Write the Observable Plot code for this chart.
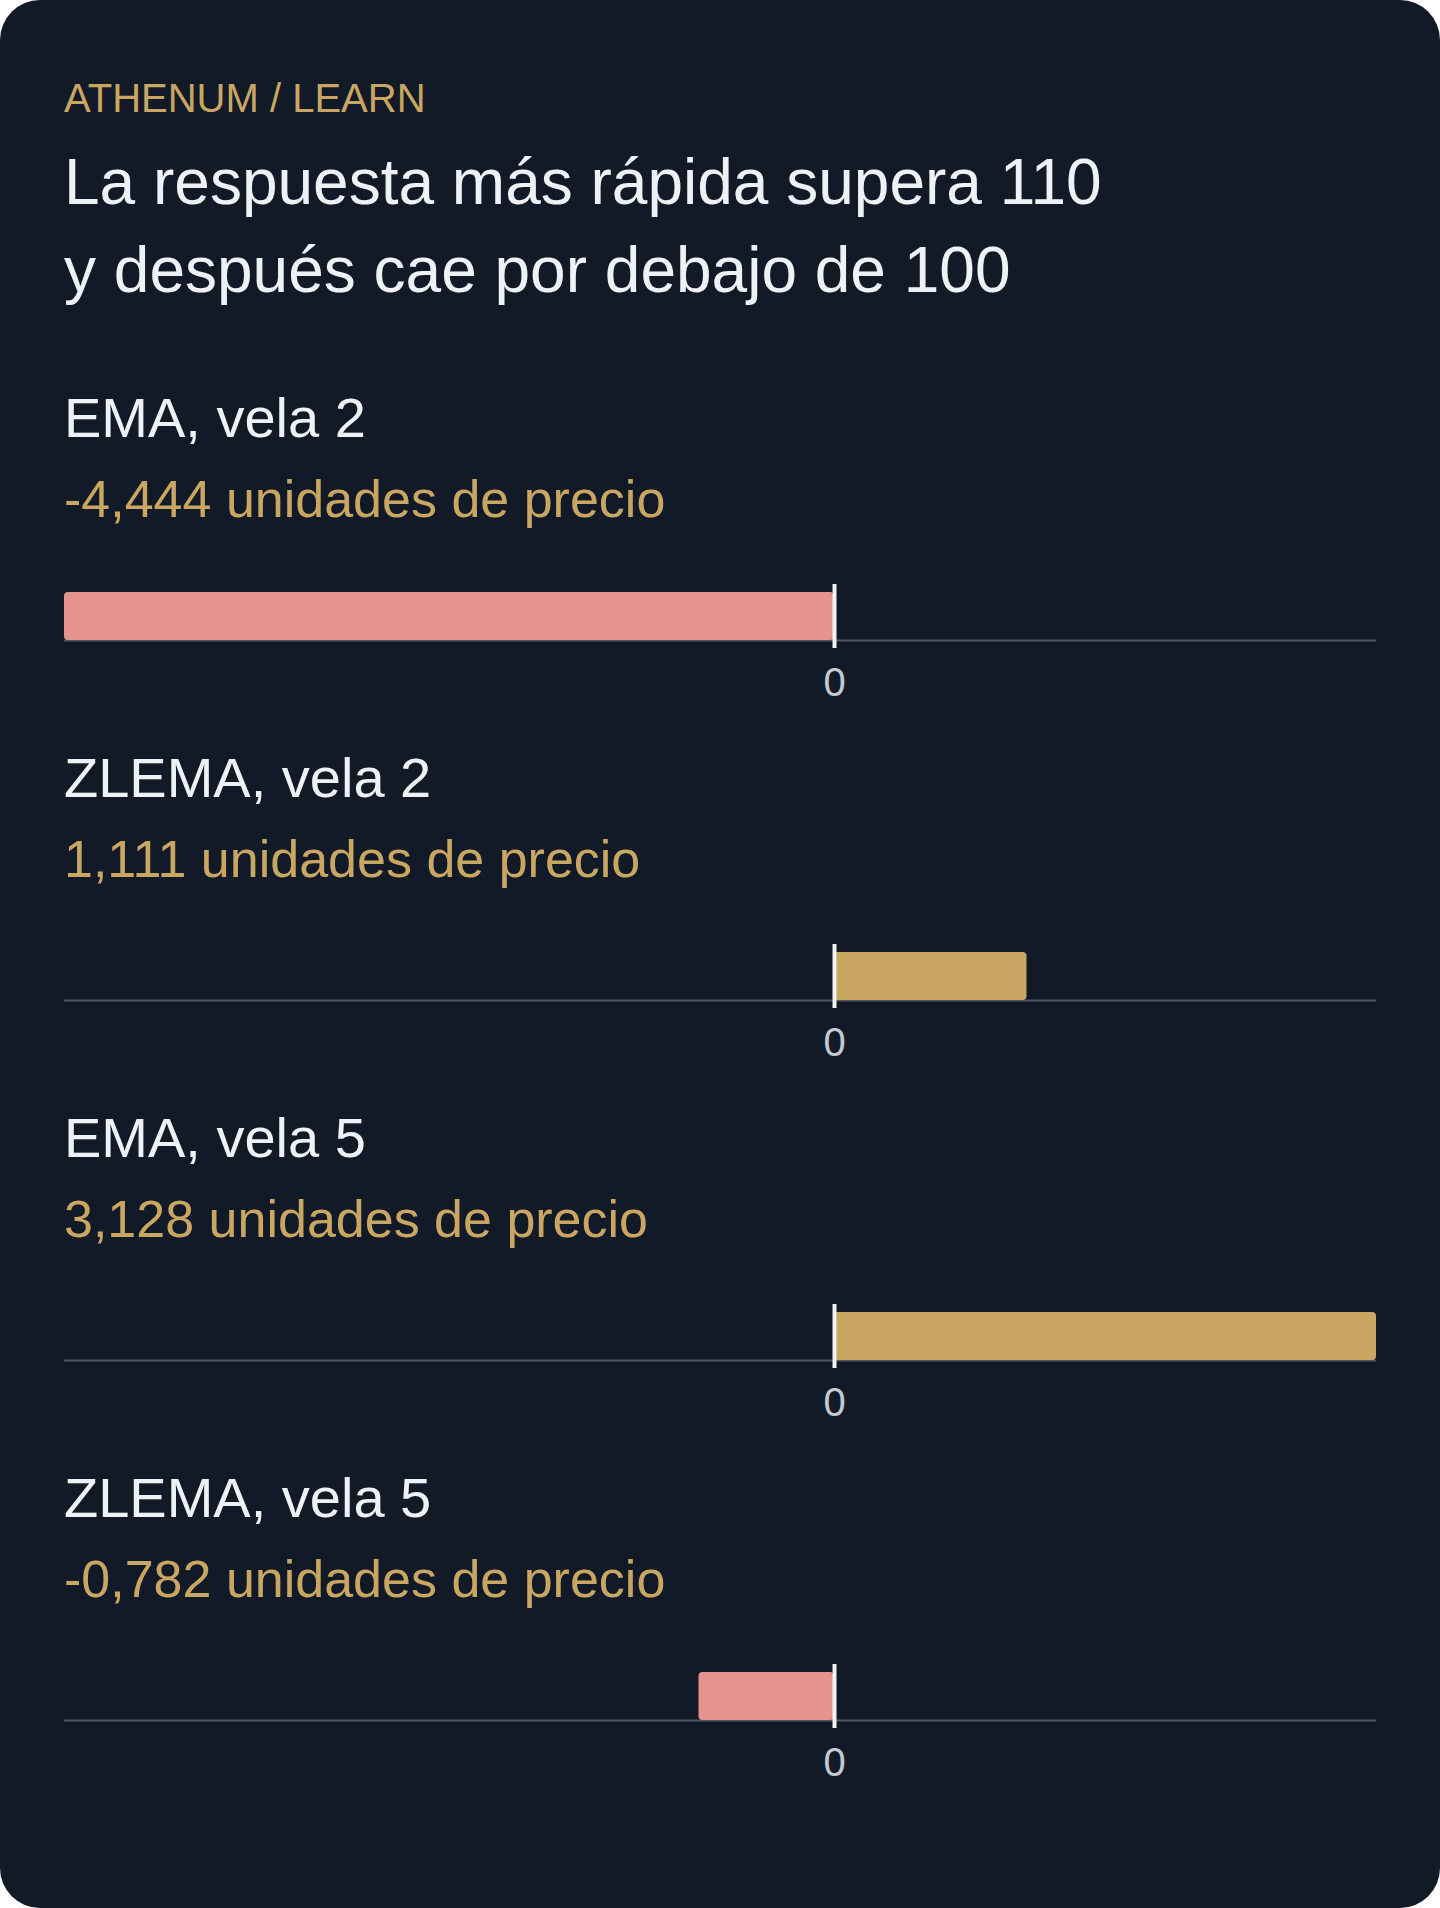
<!DOCTYPE html>
<html>
<head>
<meta charset="utf-8">
<script src="https://cdn.jsdelivr.net/npm/d3@7"></script>
<script src="https://cdn.jsdelivr.net/npm/@observablehq/plot@0.6"></script>
<style>
  html, body { margin: 0; padding: 0; background: #ffffff; }
  body { width: 1440px; height: 1908px; overflow: hidden; }
  #card {
    position: relative; width: 1440px; height: 1908px;
    background: #131a27; border-radius: 40px; overflow: hidden;
    font-family: "Liberation Sans", Arial, Helvetica, sans-serif;
  }
  .kicker { position: absolute; left: 64px; top: 78px; font-size: 40px; line-height: 40px; color: #c9a762; letter-spacing: 0; }
  .title { position: absolute; left: 64px; top: 138px; font-size: 64px; line-height: 88px; color: #eef1f6; margin: 0; font-weight: normal; }
  .plabel { position: absolute; left: 64px; font-size: 56px; line-height: 56px; color: #eef1f6; }
  .pvalue { position: absolute; left: 64px; font-size: 52px; line-height: 52px; color: #c9a762; }
  .pchart { position: absolute; left: 0; }
</style>
</head>
<body>
<div id="card">
  <div class="kicker">ATHENUM / LEARN</div>
  <h1 class="title">La respuesta más rápida supera 110<br>y después cae por debajo de 100</h1>
</div>
<script>
// Data
const panelNames = ["EMA, vela 2", "ZLEMA, vela 2", "EMA, vela 5", "ZLEMA, vela 5"];
const panelValues = [-4.444, 1.111, 3.128, -0.782];
const valueLabels = ["-4,444", "1,111", "3,128", "-0,782"];
const unitText = "unidades de precio";
const zeroTick = [0];

const negColor = "#e4938e";
const posColor = "#c9a763";

const card = document.getElementById("card");
const xDomain = [d3.min(panelValues), d3.max(panelValues)];

panelNames.forEach((name, i) => {
  const off = 360 * i;
  const lab = document.createElement("div");
  lab.className = "plabel";
  lab.style.top = (390 + off) + "px";
  lab.textContent = name;
  card.appendChild(lab);

  const val = document.createElement("div");
  val.className = "pvalue";
  val.style.top = (473 + off) + "px";
  val.textContent = valueLabels[i] + " " + unitText;
  card.appendChild(val);

  const v = panelValues[i];
  const chart = Plot.plot({
    width: 1440,
    height: 160,
    marginLeft: 64,
    marginRight: 64,
    marginTop: 32,
    marginBottom: 80,
    style: { background: "transparent", fontSize: "40px", fontFamily: "'Liberation Sans', Arial, sans-serif", overflow: "visible" },
    x: { domain: xDomain, nice: false },
    y: { domain: [0, 1], axis: null },
    marks: [
      Plot.ruleY([0], { stroke: "#4e5866", strokeWidth: 2 }),
      Plot.barX([v], { x: d => d, fill: v < 0 ? negColor : posColor, rx: 4 }),
      Plot.ruleX(zeroTick, { stroke: "#f1f3f7", strokeWidth: 4, insetTop: -8, insetBottom: -8 }),
      Plot.axisX({ ticks: zeroTick, tickSize: 0, tickPadding: 27, fontSize: 40, fill: "#c3c9d2", label: null, tickFormat: d => String(d) })
    ]
  });
  chart.classList.add("pchart");
  chart.style.position = "absolute";
  chart.style.left = "0px";
  chart.style.top = (560 + off) + "px";
  card.appendChild(chart);
});
</script>
</body>
</html>
